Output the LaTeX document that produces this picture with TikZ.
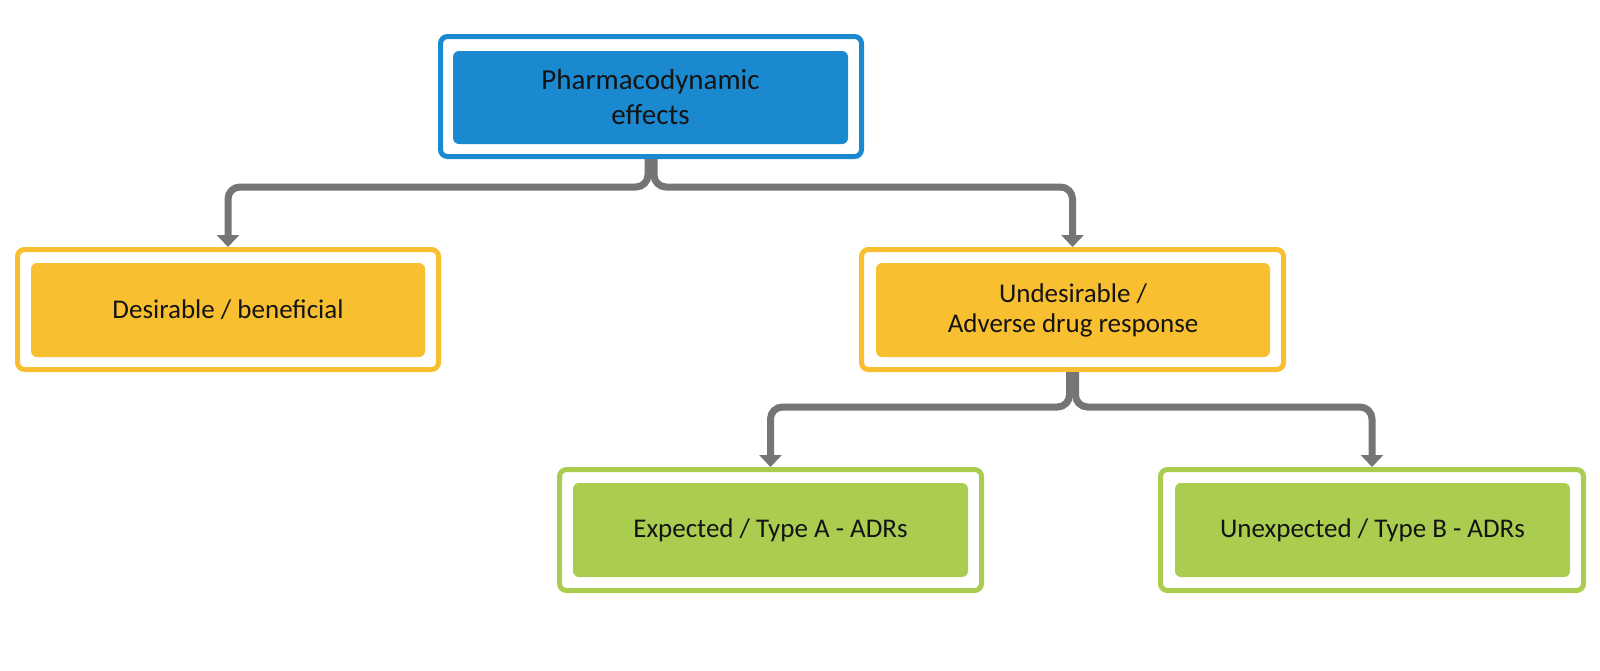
\documentclass[tikz,border=0pt]{standalone}
\usepackage{fontspec}
\setmainfont{Carlito}
\usetikzlibrary{arrows.meta}
\definecolor{cblue}{RGB}{27,137,208}
\definecolor{cyellow}{RGB}{248,192,48}
\definecolor{cgreen}{RGB}{170,205,80}
\definecolor{cgray}{RGB}{117,117,117}
\definecolor{ctext}{RGB}{20,20,20}
\begin{document}
\begin{tikzpicture}[x=1pt,y=-1pt,
  frame/.style={draw=#1, line width=5pt, fill=white, rounded corners=7pt, minimum width=421pt, minimum height=120pt, inner sep=0pt},
  innerbox/.style={fill=#1, rounded corners=6pt, minimum width=394pt, minimum height=94pt, inner sep=0pt, align=center, text=ctext, font=\fontsize{27}{30}\selectfont},
  conn/.style={draw=cgray, line width=7pt, rounded corners=12pt, -{Triangle[width=22pt,length=12pt]}}]
\useasboundingbox[fill=white] (0,0) rectangle (1600,670);

% top
\node[frame=cblue] (top) at (651,96.5) {};
\node[innerbox=cblue, minimum width=395pt, minimum height=93pt, font=\fontsize{29}{35}\selectfont] (topin) at (650.5,97.5) {Pharmacodynamic\\effects};

% level 2
\node[frame=cyellow] (left) at (228,309.5) {};
\node[innerbox=cyellow] (leftin) at (228,310) {Desirable / beneficial};
\node[frame=cyellow, minimum width=422pt] (right) at (1072.5,309.5) {};
\node[innerbox=cyellow] (rightin) at (1073,310) {Undesirable /\\Adverse drug response};

% level 3
\node[frame=cgreen, minimum width=422pt, minimum height=121pt] (ga) at (770.5,530) {};
\node[innerbox=cgreen, minimum width=395pt] (gain) at (770.5,530) {Expected / Type A - ADRs};
\node[frame=cgreen, minimum width=423pt, minimum height=121pt] (gb) at (1372,530) {};
\node[innerbox=cgreen, minimum width=395pt] (gbin) at (1372.5,530) {Unexpected / Type B - ADRs};

% connectors
\draw[conn] ([xshift=-3pt]top.south) -- ++(0,28) -| (left.north);
\draw[conn] ([xshift=3pt]top.south) -- ++(0,28) -| (right.north);
\draw[conn] ([xshift=-3pt]right.south) -- ++(0,35) -| (ga.north);
\draw[conn] ([xshift=3pt]right.south) -- ++(0,35) -| (gb.north);
\end{tikzpicture}
\end{document}
